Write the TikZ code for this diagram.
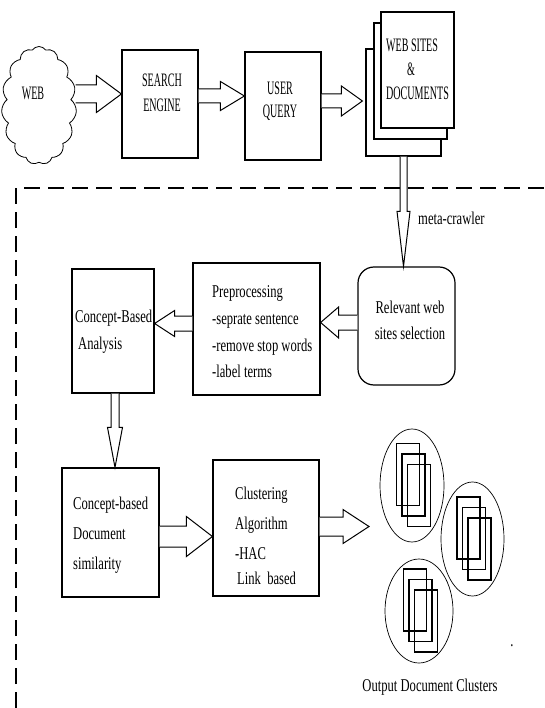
\documentclass[tikz,border=0pt]{standalone}
\usepackage{fontspec}
\setmainfont{Liberation Serif}
\newfontfamily\capfont{Liberation Serif}[FakeStretch=0.53]
\newfontfamily\bodyfont{Liberation Serif}[FakeStretch=0.7]
\usetikzlibrary{calc,shapes.symbols}

\tikzset{
    box/.style={draw,line width=1.2pt,fill=white,inner sep=0pt},
    captxt/.style={font=\capfont\fontsize{19}{24}\selectfont,align=center,inner sep=0pt},
    bodytxt/.style={font=\bodyfont\fontsize{18}{27}\selectfont,align=left,inner sep=0pt},
    fatarrow/.style={line width=1pt,line join=miter,fill=white},
    frame/.style={line width=1.1pt,dash pattern=on 16pt off 8pt}
}

% horizontal block arrow: from, to, shaft half width, head half width, head length (negative = to the left)
\newcommand{\hfat}[5]{%
    \draw[fatarrow] let \p1=(#1), \p2=(#2) in
        (\x1,{\y1+#3}) -- ({\x2-(#5)},{\y1+#3}) -- ({\x2-(#5)},{\y1+#4}) -- (\x2,\y1)
        -- ({\x2-(#5)},{\y1-#4}) -- ({\x2-(#5)},{\y1-#3}) -- (\x1,{\y1-#3});
}
% downward block arrow
\newcommand{\vfat}[5]{%
    \draw[fatarrow] let \p1=(#1), \p2=(#2) in
        ({\x1-#3},\y1) -- ({\x1-#3},{\y2+#5}) -- ({\x1-#4},{\y2+#5}) -- (\x1,\y2)
        -- ({\x1+#4},{\y2+#5}) -- ({\x1+#3},{\y2+#5}) -- ({\x1+#3},\y1);
}

\begin{document}
\begin{tikzpicture}[x=1pt,y=-1pt]
    \useasboundingbox (0,0) rectangle (545,708);

    \node[cloud,draw,line width=0.8pt,fill=white,cloud puffs=15,cloud puff arc=110,cloud ignores aspect,
        minimum width=75pt,minimum height=118pt,inner sep=0pt] (web) at (39,105.5) {};
    \node[captxt] (webtxt) at (33,93) {WEB};

    \node[box,minimum width=76pt,minimum height=108pt] (search) at (160,104) {};
    \node[captxt,font=\capfont\fontsize{19}{25}\selectfont] (searchtxt) at (162,92.5) {SEARCH\\ENGINE};

    \node[box,minimum width=76pt,minimum height=108pt] (query) at (283,106) {};
    \node[captxt,font=\capfont\fontsize{19}{23}\selectfont] (querytxt) at (280,101.5) {USER\\QUERY};

    \node[box,minimum width=75pt,minimum height=107pt] (docsback) at (403.5,102.5) {};
    \node[box,minimum width=73pt,minimum height=116pt] (docsmid) at (410.5,81) {};
    \node[box,minimum width=73pt,minimum height=116pt] (docsfront) at (417.5,70) {};
    \node[captxt,align=left,anchor=west] (docstxt) at (386,69) {WEB SITES\\\hspace{21pt}\&\\DOCUMENTS};

    \draw[frame] (16,708) -- (16,188) -- (545,188);

    \node[box,rounded corners=16pt,minimum width=97pt,minimum height=118pt] (relevant) at (406.5,326) {};
    \node[bodytxt,align=center,font=\bodyfont\fontsize{18}{26}\selectfont] (relevanttxt) at (410,320.5) {Relevant web\\sites selection};

    \node[box,minimum width=127pt,minimum height=132pt] (prep) at (256.5,329) {};
    \node[bodytxt,anchor=west,font=\bodyfont\fontsize{18}{26.7}\selectfont] (preptxt) at (212,332)
        {Preprocessing\\-seprate sentence\\-remove stop words\\-label terms};

    \node[box,minimum width=82pt,minimum height=124pt] (concept) at (113,331) {};
    \node[bodytxt,anchor=west] (concepttxt) at (75,332) {Concept-Based\\\hspace{3pt}Analysis};

    \node[box,minimum width=97pt,minimum height=129pt] (simil) at (110.5,532.5) {};
    \node[bodytxt,anchor=west,font=\bodyfont\fontsize{18}{30}\selectfont] (similtxt) at (73,535.5)
        {Concept-based\\Document\\similarity};

    \node[box,minimum width=106pt,minimum height=136pt] (clust) at (266,528) {};
    \node[bodytxt,anchor=west,font=\bodyfont\fontsize{18}{30}\selectfont] (clusttxt) at (235,536)
        {Clustering\\Algorithm\\-HAC\\[-5pt]\hspace{2pt}Link\ \ based};

    \foreach \cx/\cy/\rx/\ry in {412/485.5/32/56.5,472.5/539/31.5/57,419/611/34/52}{
        \draw[line width=0.7pt] (\cx,\cy) ellipse [x radius=\rx pt,y radius=\ry pt];
        \foreach \d in {0,1,2}
            \draw[line width=1.1pt] (\cx-15.5+5.5*\d,\cy-42+10.5*\d) rectangle +(23,62);
    }
    \coordinate (clusterin) at (369,526.5);
    \node[bodytxt] (outtxt) at (430,687) {Output Document Clusters};
    \node[bodytxt] (dot) at (512,646) {.};

    \hfat{[yshift=11.5pt]web.east}{search.west}{9pt}{18.5pt}{25pt}
    \hfat{[yshift=8pt]search.east}{query.west}{7pt}{14.5pt}{24pt}
    \hfat{[yshift=5pt]query.east}{[xshift=-3pt]docsback.west}{7pt}{15pt}{21pt}
    \vfat{docsback.south}{relevant.north}{3.5pt}{6.5pt}{55pt}
    \node[bodytxt,anchor=west] (metatxt) at (418,218) {meta-crawler};
    \hfat{[yshift=3.5pt]relevant.west}{prep.east}{7.5pt}{15.5pt}{-18pt}
    \hfat{[yshift=5.5pt]prep.west}{concept.east}{7.5pt}{13pt}{-20pt}
    \vfat{[xshift=2pt]concept.south}{simil.north}{4pt}{7.5pt}{40pt}
    \hfat{[yshift=-4pt]simil.east}{clust.west}{10.5pt}{20pt}{26pt}
    \hfat{[yshift=1.5pt]clust.east}{clusterin}{9.5pt}{17pt}{26pt}
\end{tikzpicture}
\end{document}
